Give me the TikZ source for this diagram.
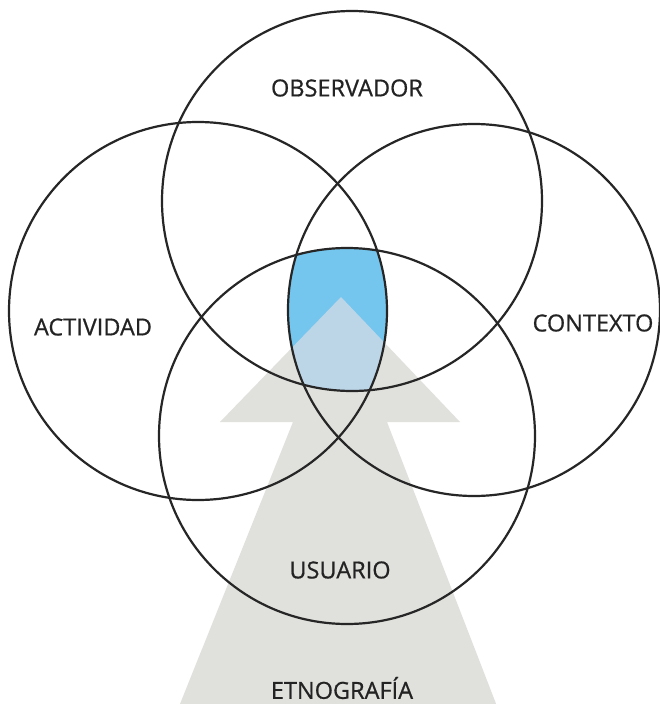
\documentclass[tikz,border=0pt]{standalone}
\usepackage{fontspec}
\setmainfont{Open Sans}[FakeBold=0.7]
\definecolor{ringc}{RGB}{38,38,38}
\definecolor{arrowgray}{RGB}{224,224,220}
\definecolor{coreblue}{RGB}{116,198,238}
\definecolor{coremix}{RGB}{188,214,232}
\definecolor{labelc}{RGB}{35,35,35}
\tikzset{
  ring/.style={draw=ringc, line width=2.2pt},
  label/.style={text=labelc, font=\fontsize{23.5}{27}\selectfont, inner sep=0pt},
}
\begin{document}
\begin{tikzpicture}[x=1pt,y=-1pt]
\useasboundingbox (0,0) rectangle (660,704);
\fill[white] (0,0) rectangle (660,704);
% circle centres
\coordinate (cT) at (352,201);
\coordinate (cL) at (198,311);
\coordinate (cR) at (474,310);
\coordinate (cB) at (347,436);
% arrow outline
\def\arrowpath{(341,297) -- (460,422) -- (387,422) -- (500,714) -- (176,714) -- (293,422) -- (220,422) -- cycle}
\begin{scope}
\clip (0,0) rectangle (660,704);
\fill[arrowgray] \arrowpath;
\end{scope}
% core intersection
\begin{scope}
\clip (cT) circle [radius=190pt];
\clip (cL) circle [radius=189pt];
\clip (cR) circle [radius=186pt];
\fill[coreblue] (cB) circle [radius=188pt];
\fill[coremix] \arrowpath;
\end{scope}
% rings
\draw[ring] (cT) circle [radius=190pt];
\draw[ring] (cL) circle [radius=189pt];
\draw[ring] (cR) circle [radius=186pt];
\draw[ring] (cB) circle [radius=188pt];
% labels
\node[label] (obs) at (347,88) {OBSERVADOR};
\node[label] (act) at (93,327) {ACTIVIDAD};
\node[label] (con) at (593,323) {CONTEXTO};
\node[label] (usu) at (340,570) {USUARIO};
\node[label] (etn) at (342,688) {ETNOGRAFÍA};
\end{tikzpicture}
\end{document}
